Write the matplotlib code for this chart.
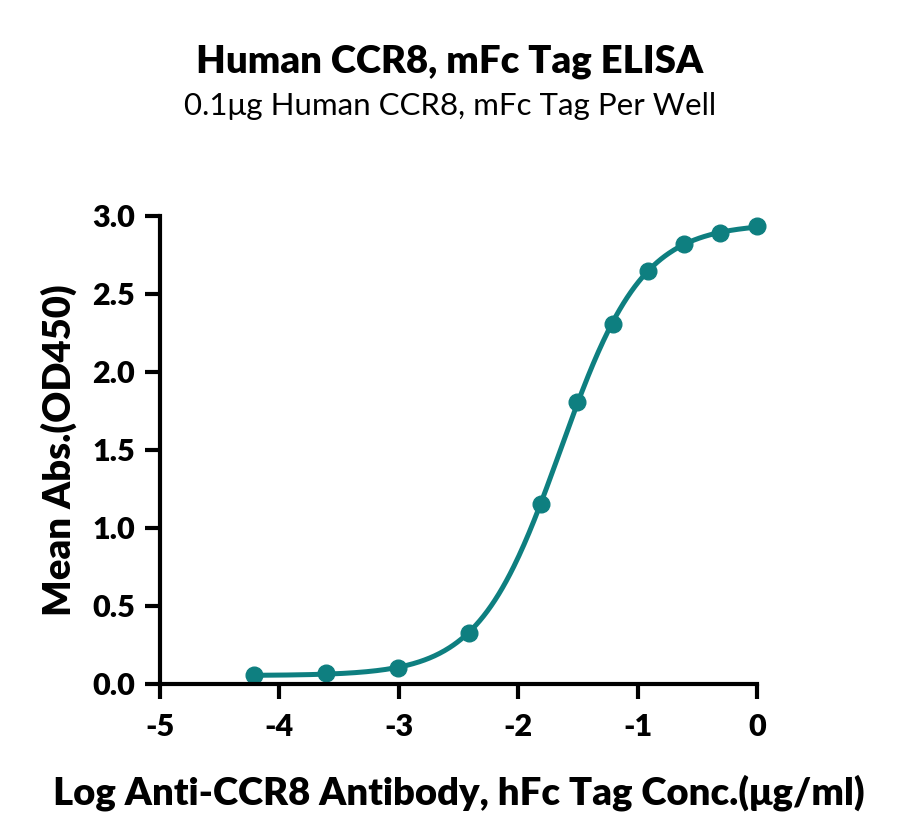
import numpy as np
import matplotlib
matplotlib.use("Agg")
import matplotlib.pyplot as plt

# log10 concentration (ug/ml) and mean OD450
log_conc = [-4.21, -3.61, -3.01, -2.41, -1.81, -1.51, -1.21, -0.91, -0.61, -0.31, 0.0]
od450 = [0.058, 0.068, 0.105, 0.325, 1.155, 1.805, 2.305, 2.645, 2.82, 2.89, 2.935]

teal = "#0e7f80"
plt.rcParams["font.family"] = ["Lato", "DejaVu Sans"]
W = "heavy"


def fit_4pl(x, y):
    # grid search over ec50/hill, bottom and top solved linearly
    x = np.asarray(x)
    y = np.asarray(y)
    best = None
    for ec in np.linspace(-2.2, -1.2, 201):
        for h in np.linspace(0.5, 2.5, 201):
            s = 1.0 / (1.0 + 10 ** ((ec - x) * h))
            A = np.column_stack([1 - s, s])
            coef, *_ = np.linalg.lstsq(A, y, rcond=None)
            err = np.sum((A @ coef - y) ** 2)
            if best is None or err < best[0]:
                best = (err, coef[0], coef[1], ec, h)
    return best[1:]


bottom, top, ec50, hill = fit_4pl(log_conc, od450)
xs = np.linspace(min(log_conc), max(log_conc), 400)
ys = bottom + (top - bottom) / (1 + 10 ** ((ec50 - xs) * hill))

fig = plt.figure(figsize=(9, 8.38), dpi=100)
ax = fig.add_axes([0.1778, 0.1838, 0.6633, 0.5585])

ax.plot(xs, ys, color=teal, lw=3.6, solid_capstyle="round", clip_on=False)
ax.plot(log_conc, od450, "o", color=teal, ms=12, clip_on=False)

ax.set_xlim(-5, 0)
ax.set_ylim(0, 3.0)
ax.set_xticks([-5, -4, -3, -2, -1, 0])
ax.set_yticks([0.0, 0.5, 1.0, 1.5, 2.0, 2.5, 3.0])
ax.set_xticklabels(["-5", "-4", "-3", "-2", "-1", "0"])
ax.set_yticklabels(["0.0", "0.5", "1.0", "1.5", "2.0", "2.5", "3.0"])

for s in ["top", "right"]:
    ax.spines[s].set_visible(False)
for s in ["left", "bottom"]:
    ax.spines[s].set_linewidth(3)
ax.tick_params(width=3, length=11, labelsize=22)
ax.tick_params(axis="x", pad=10)
ax.tick_params(axis="y", pad=7)
for lab in ax.get_xticklabels() + ax.get_yticklabels():
    lab.set_fontweight(W)

ax.set_xlabel("Log Anti-CCR8 Antibody, hFc Tag Conc.(μg/ml)", fontsize=27.5,
              fontweight=W, labelpad=24)
ax.set_ylabel("Mean Abs.(OD450)", fontsize=27.5, fontweight=W, labelpad=11)

fig.text(0.5, 0.926, "Human CCR8, mFc Tag ELISA", ha="center", va="center",
         fontsize=27.5, fontweight=W)
fig.text(0.5, 0.874, "0.1μg Human CCR8, mFc Tag Per Well", ha="center",
         va="center", fontsize=22.5)

fig.savefig("out.png", dpi=100)
